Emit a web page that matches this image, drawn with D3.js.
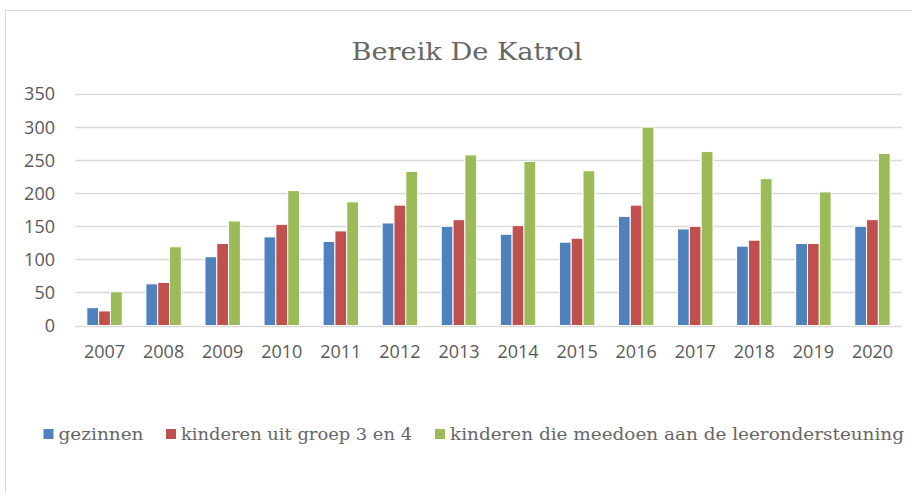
<!DOCTYPE html>
<html><head><meta charset="utf-8">
<script src="https://cdn.jsdelivr.net/npm/d3@7"></script>
<style>body{margin:0;background:#fff}svg{display:block}</style>
</head><body>
<svg id="c" width="912" height="493"></svg>
<script>
const years = ["2007","2008","2009","2010","2011","2012","2013","2014","2015","2016","2017","2018","2019","2020"];
const gezinnen = [27,63,104,134,127,155,150,138,126,165,146,120,124,150];
const kinderenGroep = [22,65,124,153,143,182,160,151,132,182,150,129,124,160];
const leerondersteuning = [51,119,158,204,187,233,258,248,234,300,263,222,202,260];
const seriesNames = ["gezinnen","kinderen uit groep 3 en 4","kinderen die meedoen aan de leerondersteuning"];
const seriesColors = ["#4F81BD","#C0504D","#9BBB59"];
const yTicks = [0,50,100,150,200,250,300,350];

const seriesData = [gezinnen, kinderenGroep, leerondersteuning];
const svg = d3.select("#c");
svg.append("rect").attr("x",5.5).attr("y",10.5).attr("width",930).attr("height",520)
  .attr("fill","#fff").attr("stroke","#d9d9d9").attr("stroke-width",1);

const L=75, R=902, T=94, B=325.5;
const x = d3.scaleBand().domain(years).range([L,R]).paddingInner(0).paddingOuter(0);
const y = d3.scaleLinear().domain([0,350]).range([B,T]);
const inner = d3.scaleBand().domain([0,1,2]).range([0, x.bandwidth()*0.6]).paddingInner(0);

svg.append("text").attr("x",467).attr("y",60).attr("text-anchor","middle")
  .attr("font-family","DejaVu Serif").attr("font-size",25).attr("fill","#666666")
  .attr("textLength",231).attr("lengthAdjust","spacingAndGlyphs").text("Bereik De Katrol");

const g = svg.append("g");
g.selectAll("line.grid").data(yTicks).join("line")
  .attr("x1",L).attr("x2",R).attr("y1",d=>Math.round(y(d))+0.5).attr("y2",d=>Math.round(y(d))+0.5)
  .attr("stroke","#d9d9d9").attr("stroke-width",1.3);
g.selectAll("text.yl").data(yTicks).join("text")
  .attr("x",55).attr("y",d=>y(d)).attr("dy","0.36em").attr("text-anchor","end")
  .attr("font-family","Open Sans").attr("font-size",18).attr("fill","#595959").text(d=>d);

seriesData.forEach((arr,si)=>{
  g.selectAll("rect.s"+si).data(arr).join("rect")
    .attr("x",(d,i)=>x(years[i]) + x.bandwidth()*0.2 + inner(si))
    .attr("width",inner.bandwidth())
    .attr("y",d=>y(d)).attr("height",d=>B-y(d))
    .attr("fill",seriesColors[si]).attr("stroke","#fff").attr("stroke-width",1);
});

g.selectAll("text.xl").data(years).join("text")
  .attr("x",d=>x(d)+x.bandwidth()/2).attr("y",358).attr("text-anchor","middle")
  .attr("font-family","Open Sans").attr("font-size",18).attr("fill","#595959").text(d=>d);

const legX = [43.5,166,435];
const legTextW = [85,231,454];
const lg = svg.append("g");
seriesNames.forEach((n,i)=>{
  lg.append("rect").attr("x",legX[i]).attr("y",429).attr("width",10).attr("height",10).attr("fill",seriesColors[i]);
  lg.append("text").attr("x",legX[i]+15).attr("y",440).attr("font-family","DejaVu Serif")
    .attr("font-size",16).attr("fill","#666666")
    .attr("textLength",legTextW[i]).attr("lengthAdjust","spacingAndGlyphs").text(n);
});
</script>
</body></html>
